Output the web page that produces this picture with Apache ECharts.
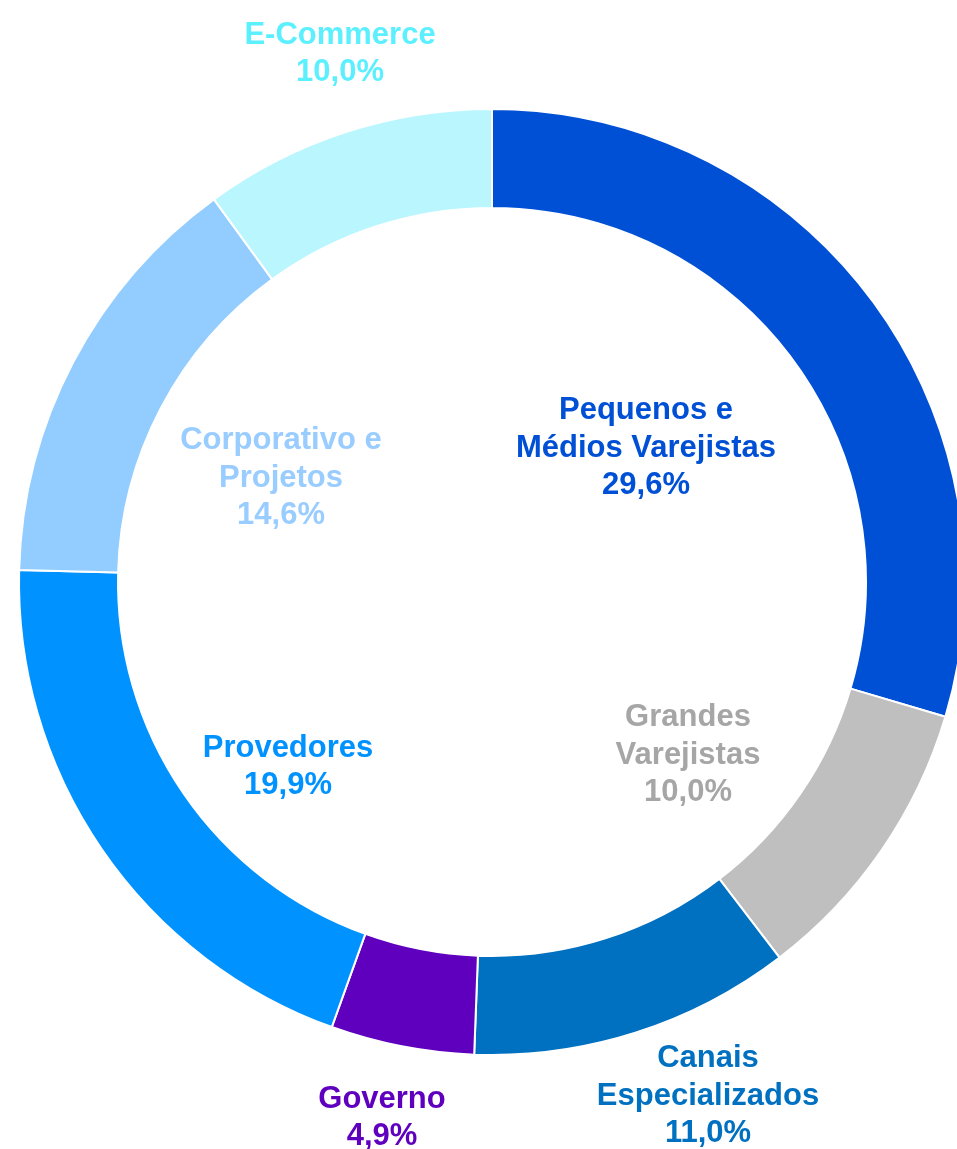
<!DOCTYPE html>
<html>
<head>
<meta charset="utf-8">
<script src="https://cdn.jsdelivr.net/npm/echarts@6/dist/echarts.min.js"></script>
<style>
html,body{margin:0;padding:0;background:#fff;}
#chart{width:957px;height:1149px;}
</style>
</head>
<body>
<div id="chart"></div>
<script>
// Data
const categories = ['Pequenos e Médios Varejistas', 'Grandes Varejistas', 'Canais Especializados', 'Governo', 'Provedores', 'Corporativo e Projetos', 'E-Commerce'];
const labelLines = ['Pequenos e\nMédios Varejistas', 'Grandes\nVarejistas', 'Canais\nEspecializados', 'Governo', 'Provedores', 'Corporativo e\nProjetos', 'E-Commerce'];
const shares = [29.6, 10.0, 11.0, 4.9, 19.9, 14.6, 10.0];

// Styles / layout
const sliceColors = ['#0050D6', '#BFBFBF', '#0070C0', '#5F00BF', '#0092FF', '#93CDFF', '#BAF6FE'];
const labelColors = ['#0050D6', '#A6A6A6', '#0070C0', '#5F00BF', '#0092FF', '#99CCFF', '#5CF0FF'];
const labelAnchors = [[646, 448], [688, 755], [708, 1096], [382, 1118], [288, 767], [281, 478], [340, 54]];

const chart = echarts.init(document.getElementById('chart'));
chart.setOption({
  animation: false,
  series: [{
    type: 'pie',
    center: [492, 582],
    radius: [374, 473],
    startAngle: 90,
    clockwise: true,
    avoidLabelOverlap: false,
    itemStyle: { borderColor: '#ffffff', borderWidth: 2 },
    labelLine: { show: false },
    data: categories.map((c, i) => ({
      name: c,
      value: shares[i],
      itemStyle: { color: sliceColors[i] },
      label: { color: labelColors[i] }
    })),
    label: {
      show: true,
      position: 'outside',
      fontFamily: 'Liberation Sans, Arial, sans-serif',
      fontWeight: 'bold',
      fontSize: 31,
      lineHeight: 37.5,
      align: 'center',
      formatter: p => labelLines[p.dataIndex] + '\n' + shares[p.dataIndex].toFixed(1).replace('.', ',') + '%'
    },
    labelLayout: p => ({
      x: labelAnchors[p.dataIndex][0],
      y: labelAnchors[p.dataIndex][1],
      align: 'center',
      verticalAlign: 'middle'
    }),
    emphasis: { disabled: true }
  }]
});
</script>
</body>
</html>
